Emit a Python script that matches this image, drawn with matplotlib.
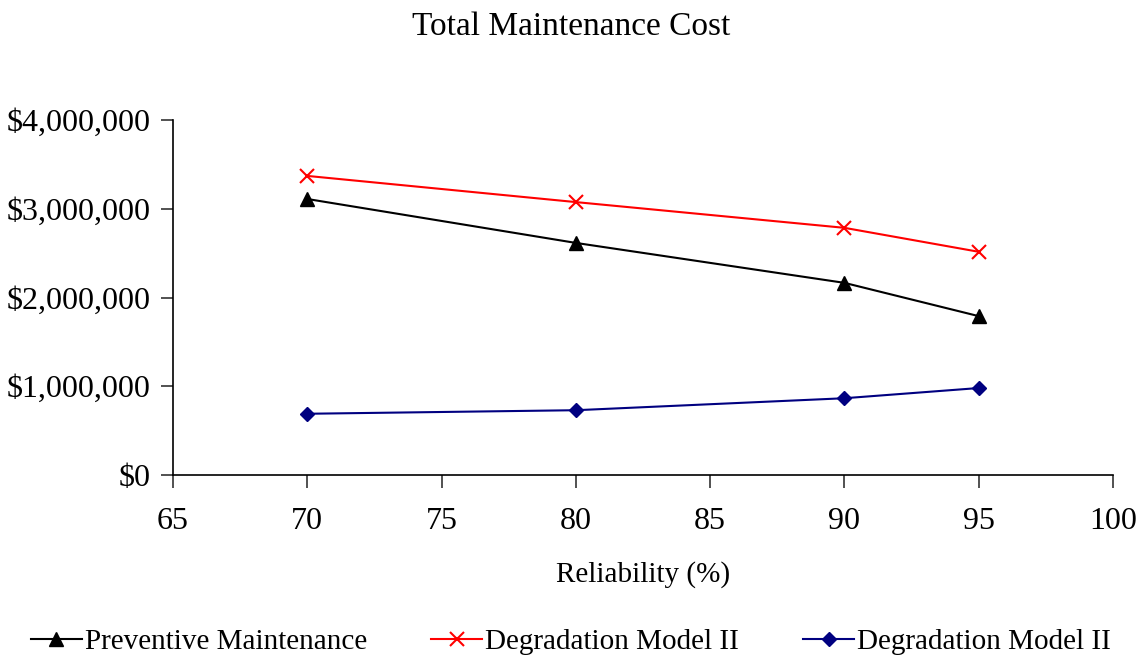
import matplotlib.pyplot as plt
from matplotlib.ticker import FuncFormatter

reliability = [70, 80, 90, 95]
preventive = [3110000, 2615000, 2165000, 1790000]
degradation_red = [3370000, 3075000, 2785000, 2515000]
degradation_blue = [690000, 730000, 865000, 980000]

plt.rcParams['font.family'] = ['Liberation Serif', 'DejaVu Serif']

fig = plt.figure(figsize=(11.42, 6.57), dpi=100)
ax = fig.add_axes([173 / 1142, 1 - 475 / 657, 940 / 1142, 355 / 657])

ax.plot(reliability, preventive, color='black', marker='^', markersize=10,
        linewidth=1.5, label='Preventive Maintenance')
ax.plot(reliability, degradation_red, color='#ff0000', marker='x', markersize=10,
        markeredgewidth=1.5, linewidth=1.5, label='Degradation Model II')
ax.plot(reliability, degradation_blue, color='#000080', marker='D', markersize=7,
        linewidth=1.5, label='Degradation Model II')

ax.set_xlim(65, 100)
ax.set_ylim(0, 4000000)
ax.set_xticks([65, 70, 75, 80, 85, 90, 95, 100])
ax.set_yticks([0, 1000000, 2000000, 3000000, 4000000])
ax.yaxis.set_major_formatter(FuncFormatter(lambda v, p: '${:,.0f}'.format(v)))

ax.spines['top'].set_visible(False)
ax.spines['right'].set_visible(False)
for s in ('left', 'bottom'):
    ax.spines[s].set_linewidth(1.2)
ax.tick_params(axis='both', labelsize=23, length=9, width=1.2, colors='#333333',
               labelcolor='black')
ax.tick_params(axis='x', pad=14)
ax.tick_params(axis='y', pad=7)

ax.set_xlabel('Reliability (%)', fontsize=21, labelpad=18)
fig.text(0.5, 1 - 27 / 657, 'Total Maintenance Cost', ha='center', va='center',
         fontsize=24)

fig.legend(loc='center', bbox_to_anchor=(0.5, 1 - 642 / 657), ncol=3,
           fontsize=21, frameon=False, handlelength=1.75, handletextpad=0.1,
           columnspacing=2.2)

fig.savefig('out.png', dpi=100)
